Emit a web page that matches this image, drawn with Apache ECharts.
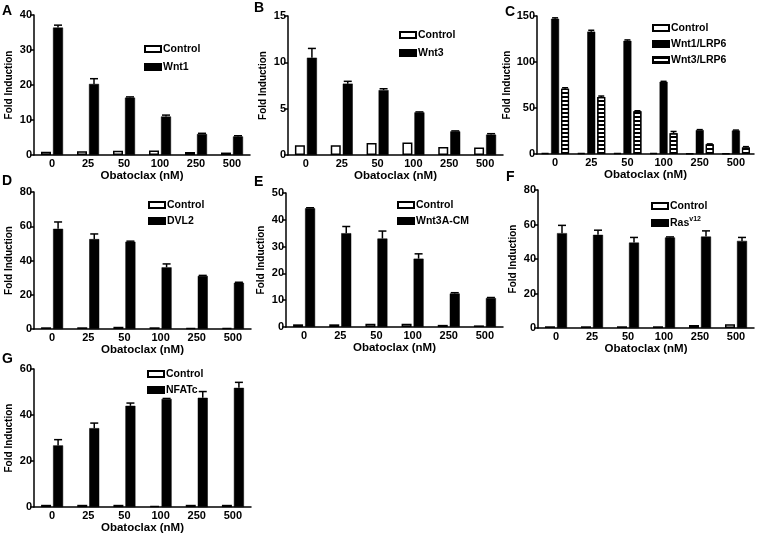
<!DOCTYPE html>
<html><head><meta charset="utf-8">
<script src="https://cdn.jsdelivr.net/npm/echarts@6/dist/echarts.min.js"></script>
<style>html,body{margin:0;padding:0;background:#fff}#c{width:757px;height:535px}</style>
</head><body><div id="c"></div>
<script>
// ---- data ----
const doses = ['0', '25', '50', '100', '250', '500'];

const aControl = [0.95, 1.05, 1.2, 1.3, 0.85, 0.7];
const aWnt1 = [36.4, 20.3, 16.4, 11.0, 6.0, 5.3];
const aWnt1Err = [0.7, 1.5, 0.2, 0.4, 0.2, 0.2];

const bControl = [1.05, 1.05, 1.3, 1.35, 0.85, 0.8];
const bWnt3 = [10.5, 7.7, 7.0, 4.6, 2.55, 2.2];
const bWnt3Err = [1.0, 0.25, 0.15, 0.05, 0.05, 0.1];

const cControl = [1, 1, 1, 1, 0.5, 0.5];
const cWnt1LRP6 = [147, 133, 123, 78.5, 26, 25.5];
const cWnt1LRP6Err = [1, 1.5, 1, 0.5, 0.5, 0.5];
const cWnt3LRP6 = [71, 62, 46.5, 22.5, 10.5, 7];
const cWnt3LRP6Err = [1, 1, 0.5, 2, 0.5, 1];

const dControl = [1, 1, 1.3, 1, 0.5, 0.5];
const dDVL2 = [58.5, 52.5, 51, 36, 31, 27];
const dDVL2Err = [4, 3, 0.3, 2, 0.3, 0.3];

const eControl = [1, 1, 1.2, 1.2, 0.8, 0.6];
const eWnt3ACM = [44.3, 35, 33, 25.5, 12.5, 10.8];
const eWnt3ACMErr = [0.2, 2.5, 2.8, 1.8, 0.3, 0.2];

const fControl = [1, 1, 1, 1, 1.8, 2.2];
const fRas = [55, 54, 49.5, 52.5, 53, 50.5];
const fRasErr = [4.5, 2.7, 3, 0.3, 3.3, 2];

const gControl = [1, 1, 1, 0.5, 1, 1];
const gNFATc = [26.8, 34.3, 44, 47, 47.5, 51.8];
const gNFATcErr = [2.5, 2.2, 1.2, 0.2, 2.7, 2.4];

// ---- styles ----
const FONT = "'Liberation Sans', Arial, sans-serif";
const sControl = { color: '#fff', borderColor: '#000', borderWidth: 1.5 };
const sBlack = { color: '#000', borderColor: '#000', borderWidth: 0.5 };
const sStripe = {
  color: '#fff', borderColor: '#000', borderWidth: 1.2,
  decal: { symbol: 'rect', symbolSize: 1, color: '#000', dashArrayX: [1, 0], dashArrayY: [1.2, 1.3], rotation: 0 }
};

const panels = [
  { letter: 'A', lx: 2, ly: 12, grid: { left: 34, top: 15, width: 216, height: 140 }, max: 40, interval: 10,
    legend: { left: 139, top: 38, gap: 6 }, bw: 10, gap: 0.2,
    series: [{ name: 'Control', data: aControl, style: sControl },
             { name: 'Wnt1', data: aWnt1, err: aWnt1Err, style: sBlack }] },
  { letter: 'B', lx: 254, ly: 9, grid: { left: 288, top: 16, width: 215, height: 139 }, max: 15, interval: 5,
    legend: { left: 394, top: 24, gap: 6 }, bw: 10, gap: 0.2,
    series: [{ name: 'Control', data: bControl, style: sControl },
             { name: 'Wnt3', data: bWnt3, err: bWnt3Err, style: sBlack }] },
  { letter: 'C', lx: 505, ly: 13, grid: { left: 537, top: 16, width: 217, height: 138 }, max: 150, interval: 50,
    legend: { left: 647, top: 17, gap: 4 }, bw: 8, gap: 0.25,
    series: [{ name: 'Control', data: cControl, style: sControl },
             { name: 'Wnt1/LRP6', data: cWnt1LRP6, err: cWnt1LRP6Err, style: sBlack },
             { name: 'Wnt3/LRP6', data: cWnt3LRP6, err: cWnt3LRP6Err, style: sStripe }] },
  { letter: 'D', lx: 2, ly: 182, grid: { left: 34, top: 192, width: 217, height: 137 }, max: 80, interval: 20,
    legend: { left: 143, top: 194, gap: 4 }, bw: 10, gap: 0.2,
    series: [{ name: 'Control', data: dControl, style: sControl },
             { name: 'DVL2', data: dDVL2, err: dDVL2Err, style: sBlack }] },
  { letter: 'E', lx: 254, ly: 183, grid: { left: 286, top: 193, width: 217, height: 134 }, max: 50, interval: 10,
    legend: { left: 392, top: 194, gap: 4 }, bw: 10, gap: 0.2,
    series: [{ name: 'Control', data: eControl, style: sControl },
             { name: 'Wnt3A-CM', data: eWnt3ACM, err: eWnt3ACMErr, style: sBlack }] },
  { letter: 'F', lx: 506, ly: 178, grid: { left: 538, top: 190, width: 216, height: 138 }, max: 80, interval: 20,
    legend: { left: 646, top: 195, gap: 4 }, bw: 10, gap: 0.2,
    series: [{ name: 'Control', data: fControl, style: sControl },
             { name: 'Ras', data: fRas, err: fRasErr, style: sBlack }] },
  { letter: 'G', lx: 2, ly: 360, grid: { left: 34, top: 369, width: 217, height: 140 }, max: 60, interval: 20,
    legend: { left: 142, top: 363, gap: 4 }, bw: 10, gap: 0.2,
    series: [{ name: 'Control', data: gControl, style: sControl },
             { name: 'NFATc', data: gNFATc, err: gNFATcErr, style: sBlack }] }
];

const option = { animation: false, backgroundColor: '#fff', textStyle: { fontFamily: FONT },
  grid: [], xAxis: [], yAxis: [], series: [], legend: [], graphic: [] };

panels.forEach((p, k) => {
  option.grid.push(Object.assign({ containLabel: false }, p.grid));
  option.xAxis.push({
    type: 'category', gridIndex: k, data: doses,
    name: 'Obatoclax (nM)', nameLocation: 'middle', nameGap: 14,
    nameTextStyle: { fontSize: 11.5, fontWeight: 'bold', color: '#000', fontFamily: FONT },
    axisLine: { lineStyle: { color: '#000', width: 1.5 } },
    axisTick: { alignWithLabel: true, length: 3, lineStyle: { color: '#000', width: 1.5 } },
    axisLabel: { color: '#000', fontSize: 11, fontWeight: 'bold', margin: 3, fontFamily: FONT }
  });
  option.yAxis.push({
    type: 'value', gridIndex: k, min: 0, max: p.max, interval: p.interval,
    name: 'Fold Induction', nameLocation: 'middle', nameGap: 20,
    nameTextStyle: { fontSize: 10, fontWeight: 'bold', color: '#000', fontFamily: FONT },
    splitLine: { show: false },
    axisLine: { show: true, lineStyle: { color: '#000', width: 1.5 } },
    axisTick: { show: true, length: 4, lineStyle: { color: '#000', width: 1.5 } },
    axisLabel: { color: '#000', fontSize: 11, fontWeight: 'bold', margin: 2, fontFamily: FONT }
  });
  const n = p.series.length;
  const total = n * p.bw + (n - 1) * p.gap * p.bw;
  p.series.forEach((s, i) => {
    option.series.push({
      type: 'bar', name: s.name, xAxisIndex: k, yAxisIndex: k, data: s.data,
      barWidth: p.bw, barGap: (p.gap * 100) + '%', itemStyle: s.style, z: 2
    });
    if (s.err) {
      const off = -total / 2 + p.bw / 2 + i * p.bw * (1 + p.gap);
      const cap = p.bw / 2 - 1;
      option.series.push({
        type: 'custom', xAxisIndex: k, yAxisIndex: k, z: 3,
        data: doses.map((d, j) => [j, s.data[j], s.err[j]]),
        encode: { x: 0, y: 1 },
        renderItem: (params, api) => {
          const x = api.value(0), v = api.value(1), e = api.value(2);
          const p0 = api.coord([x, v]);
          const p1 = api.coord([x, v + e]);
          const cx = p0[0] + off;
          return { type: 'group', children: [
            { type: 'line', shape: { x1: cx, y1: p0[1], x2: cx, y2: p1[1] }, style: { stroke: '#000', lineWidth: 1.5 } },
            { type: 'line', shape: { x1: cx - cap, y1: p1[1], x2: cx + cap, y2: p1[1] }, style: { stroke: '#000', lineWidth: 1.5 } }
          ] };
        }
      });
    }
  });
  option.legend.push({
    orient: 'vertical', left: p.legend.left, top: p.legend.top, itemGap: p.legend.gap,
    itemWidth: 16, itemHeight: 6, icon: 'rect', selectedMode: false,
    data: p.series.map(s => s.name),
    formatter: name => name === 'Ras' ? '{a|Ras}{s|v12}' : name,
    textStyle: { fontSize: 10.5, fontWeight: 'bold', color: '#000', fontFamily: FONT, lineHeight: 12,
      padding: [0, 0, 0, -3],
      rich: { a: { fontSize: 10.5, fontWeight: 'bold', color: '#000', fontFamily: FONT },
              s: { fontSize: 7, fontWeight: 'bold', color: '#000', fontFamily: FONT, padding: [0, 0, 7, 0] } } }
  });
  option.graphic.push({ type: 'text', left: p.lx, top: p.ly - 8,
    style: { text: p.letter, fontSize: 14, fontWeight: 'bold', fill: '#000', fontFamily: FONT } });
});

const chart = echarts.init(document.getElementById('c'), null, { renderer: 'canvas' });
chart.setOption(option);
</script>
</body></html>
